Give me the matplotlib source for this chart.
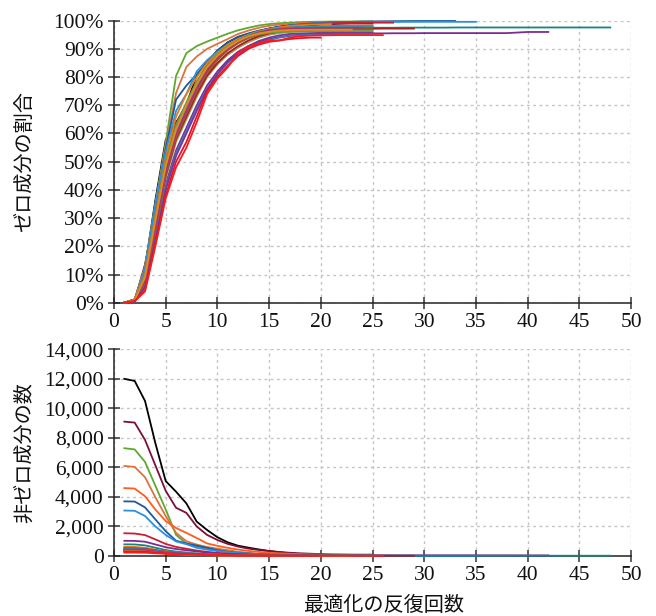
import matplotlib
matplotlib.use("Agg")
import matplotlib.pyplot as plt
from matplotlib import font_manager

# ---- data: zero-component ratio (%) per iteration, and initial non-zero count ----
series_colors = [
    "#000000", "#7b0f3b", "#5fa830", "#d9733f", "#ff5b1f", "#1c5a9c", "#2a8fe0",
    "#c81e32", "#7d2b8f", "#138585", "#a89a55", "#f07a12", "#a3201e", "#4b74b5",
    "#2a96a8", "#9c5a2c", "#6b3b9e", "#6f9a3a", "#b03070", "#e8891e",
    "#e3122f", "#ff1a1a",
]

initial_nonzero = [
    12000, 9100, 7300, 6100, 4600, 3700, 3080,
    1540, 1030, 790, 560, 620, 520, 480,
    440, 400, 350, 380, 420, 330,
    300, 230,
]

zero_ratio = [
    [0, 1.2, 12.5, 36.3, 57.7, 63.7, 70.3, 80.6, 85.3, 89.4, 92.3, 94.2, 95.3, 96.3, 97.2, 97.9, 98.5, 98.9, 99.2, 99.3, 99.4, 99.43, 99.46, 99.48, 99.5],
    [0, 0.7, 13.6, 32.5, 51.5, 64.1, 67.9, 78.0, 84.3, 88.1, 91.0, 93.0, 94.5, 95.5, 96.3, 97.0, 97.6, 98.0, 98.3, 98.6, 98.8, 98.9, 99.0, 99.0, 99.0],
    [0, 1.1, 12.7, 34.8, 56.8, 80.4, 88.5, 91.0, 92.6, 94.0, 95.4, 96.6, 97.5, 98.3, 98.8, 99.1, 99.3, 99.5, 99.6, 99.65, 99.7, 99.7, 99.72, 99.74, 99.75],
    [0, 1.1, 12.5, 34.8, 55.6, 74.3, 83.6, 87.3, 90.0, 91.8, 93.5, 95.3, 96.5, 97.5, 98.2, 98.6, 98.9, 99.1, 99.2, 99.3, 99.35, 99.4, 99.4, 99.45, 99.45],
    [0, 0.7, 12.0, 31.5, 48.5, 58.7, 66.0, 73.5, 81.5, 85.0, 88.0, 90.5, 92.5, 94.0, 95.2, 96.0, 96.7, 97.2, 97.6, 97.9, 98.1, 98.2, 98.25, 98.3, 98.3],
    [0, 0.3, 11.0, 33.0, 54.6, 72.0, 77.0, 81.0, 85.0, 89.4, 92.3, 94.3, 95.5, 96.5, 97.2, 97.8, 98.3, 98.7, 99.0, 99.2, 99.4, 99.5, 99.6, 99.7, 99.75, 99.8, 99.83, 99.86, 99.88, 99.9, 99.9, 99.9, 99.9],
    [0, 0.6, 12.0, 35.0, 53.6, 68.0, 74.0, 82.0, 86.0, 89.0, 91.5, 93.5, 95.0, 96.2, 97.0, 97.7, 98.2, 98.6, 98.9, 99.1, 99.25, 99.35, 99.42, 99.48, 99.52, 99.55, 99.57, 99.58, 99.59, 99.6, 99.6, 99.6, 99.6, 99.6, 99.6],
    [0, 1.2, 8.0, 27.0, 47.0, 60.0, 68.0, 76.0, 82.0, 86.5, 90.0, 92.5, 94.3, 95.6, 96.6, 97.4, 98.0, 98.5, 98.8, 99.0, 99.1, 99.2, 99.25, 99.28, 99.3, 99.3, 99.3],
    [0, 0.8, 6.0, 24.0, 42.0, 54.0, 62.0, 70.0, 77.0, 82.0, 86.0, 89.0, 91.0, 92.5, 93.5, 94.2, 94.7, 95.0, 95.2, 95.3, 95.4, 95.5, 95.5, 95.5, 95.5, 95.5, 95.55, 95.55, 95.55, 95.6, 95.6, 95.6, 95.6, 95.6, 95.6, 95.6, 95.6, 95.6, 95.8, 96.0, 96.0, 96.0],
    [0, 1.0, 9.0, 29.0, 49.0, 62.0, 70.0, 78.0, 84.0, 88.0, 91.0, 93.0, 94.5, 95.5, 96.2, 96.7, 97.0, 97.2, 97.3, 97.4, 97.45, 97.5, 97.5, 97.5, 97.5, 97.5, 97.5, 97.55, 97.55, 97.55, 97.55, 97.55, 97.6, 97.6, 97.6, 97.6, 97.6, 97.6, 97.6, 97.6, 97.6, 97.6, 97.6, 97.6, 97.6, 97.6, 97.6, 97.6],
    [0, 0.9, 7.0, 25.0, 44.0, 57.0, 65.0, 73.0, 80.0, 84.5, 88.0, 90.5, 92.5, 94.0, 95.0, 95.6, 96.0, 96.3, 96.4, 96.5, 96.55, 96.6, 96.6, 96.6, 96.6],
    [0, 1.0, 10.0, 31.0, 51.0, 66.0, 74.0, 80.0, 85.0, 88.5, 91.5, 93.5, 95.0, 96.2, 97.0, 97.6, 98.1, 98.4, 98.6, 98.7, 98.8],
    [0, 0.8, 7.5, 26.0, 45.0, 58.0, 66.0, 74.0, 80.5, 85.0, 88.5, 91.0, 93.0, 94.5, 95.5, 96.1, 96.5, 96.8, 96.9, 97.0, 97.05, 97.1, 97.1, 97.15, 97.15, 97.2, 97.2, 97.2, 97.2],
    [0, 0.5, 6.5, 23.0, 41.0, 53.0, 61.0, 69.0, 76.0, 81.0, 85.0, 88.0, 90.5, 92.0, 93.2, 94.0, 94.6, 94.9, 95.1, 95.2, 95.25, 95.3, 95.3, 95.3, 95.3],
    [0, 0.9, 8.5, 28.0, 47.5, 60.0, 69.0, 77.0, 83.0, 87.5, 90.5, 93.0, 94.8, 96.0, 96.8, 97.3, 97.6, 97.8, 97.9, 97.95, 98.0, 98.0, 98.0, 98.0, 98.0],
    [0, 0.7, 7.0, 25.5, 45.5, 58.5, 67.0, 75.0, 81.5, 86.0, 89.5, 92.0, 93.8, 95.0, 95.8, 96.3, 96.6, 96.8, 96.9, 96.95, 97.0, 97.0, 97.0, 97.0, 97.0],
    [0, 0.6, 5.5, 22.0, 40.0, 52.0, 60.0, 68.0, 75.5, 81.0, 85.5, 88.5, 91.0, 92.8, 94.0, 94.8, 95.3, 95.5, 95.6, 95.7, 95.75, 95.8, 95.8, 95.8, 95.8],
    [0, 1.0, 9.5, 30.0, 50.0, 63.0, 71.0, 78.5, 84.0, 88.0, 91.0, 93.0, 94.3, 95.2, 95.7, 96.0, 96.1, 96.2, 96.25, 96.3, 96.3, 96.3, 96.3, 96.3, 96.3],
    [0, 0.8, 8.0, 27.0, 46.5, 59.5, 68.0, 76.0, 82.5, 87.0, 90.0, 92.5, 94.5, 95.8, 96.6, 97.0, 97.2, 97.35, 97.4, 97.45, 97.5, 97.5, 97.5, 97.5],
    [0, 0.9, 9.0, 29.0, 48.5, 61.5, 70.0, 77.5, 83.5, 87.5, 90.5, 92.8, 94.5, 95.5, 96.1, 96.5, 96.7, 96.75, 96.8, 96.8, 96.8, 96.8, 96.8],
    [0, 0.6, 4.5, 21.0, 38.0, 50.0, 57.0, 66.0, 75.0, 80.0, 84.0, 87.5, 90.0, 91.5, 92.5, 93.0, 93.5, 93.8, 94.0, 94.0],
    [0, 0.5, 4.0, 20.0, 37.0, 48.0, 55.0, 64.0, 74.0, 79.5, 83.5, 88.5, 90.9, 92.0, 93.0, 93.0, 94.0, 94.5, 94.7, 94.8, 94.85, 94.9, 94.9, 94.9, 94.9, 94.9],
]

x_ticks = [0, 5, 10, 15, 20, 25, 30, 35, 40, 45, 50]
x_tick_labels = ["0", "5", "10", "15", "20", "25", "30", "35", "40", "45", "50"]
top_y_ticks = [0, 10, 20, 30, 40, 50, 60, 70, 80, 90, 100]
top_y_labels = ["0%", "10%", "20%", "30%", "40%", "50%", "60%", "70%", "80%", "90%", "100%"]
bottom_y_ticks = [0, 2000, 4000, 6000, 8000, 10000, 12000, 14000]
bottom_y_labels = ["0", "2,000", "4,000", "6,000", "8,000", "10,000", "12,000", "14,000"]
top_ylabel = "ゼロ成分の割合"
bottom_ylabel = "非ゼロ成分の数"
xlabel = "最適化の反復回数"

# ---- fonts ----
serif_path = font_manager.findfont(font_manager.FontProperties(family="Liberation Serif"))
TICK_FP = font_manager.FontProperties(fname=serif_path, size=15.5)
JP_FONT = ["Noto Sans CJK JP", "DejaVu Sans"]

fig = plt.figure(figsize=(6.56, 6.16), dpi=100)
ax1 = fig.add_axes([114 / 656, 1 - 302.7 / 616, 517 / 656, 282 / 616])
ax2 = fig.add_axes([114 / 656, 1 - 556 / 616, 517 / 656, 206.7 / 616])

for ratio, n0, col in zip(zero_ratio, initial_nonzero, series_colors):
    xs = list(range(1, len(ratio) + 1))
    nnz = [n0 * (100 - r) / 100 for r in ratio]
    ax1.plot(xs, ratio, color=col, lw=1.3, clip_on=False, zorder=3)
    ax2.plot(xs, nnz, color=col, lw=1.3, clip_on=False, zorder=3)

def style(ax, yticks, ylabels, ymax):
    ax.set_xlim(0, 50)
    ax.set_ylim(0, ymax)
    ax.set_xticks(x_ticks, x_tick_labels, fontproperties=TICK_FP, color="#111111")
    ax.set_yticks(yticks, ylabels, fontproperties=TICK_FP, color="#111111")
    for s in ("top", "right"):
        ax.spines[s].set_visible(False)
    for s in ("left", "bottom"):
        ax.spines[s].set_color("#222222")
        ax.spines[s].set_linewidth(1.1)
    ax.tick_params(direction="inout", length=9, width=1.1, color="#333333", pad=3)
    ax.grid(True, color="#c4c4c4", linestyle=(0, (2, 2.5)), linewidth=1.0, zorder=0)
    ax.set_axisbelow(True)

style(ax1, top_y_ticks, top_y_labels, 100)
style(ax2, bottom_y_ticks, bottom_y_labels, 14000)

ax1.set_ylabel(top_ylabel, family=JP_FONT, fontsize=14.5, color="#111111")
ax1.yaxis.set_label_coords(-0.153, 0.5)
ax2.set_ylabel(bottom_ylabel, family=JP_FONT, fontsize=14.5, color="#111111")
ax2.yaxis.set_label_coords(-0.153, 0.5)
ax2.set_xlabel(xlabel, family=JP_FONT, fontsize=14.5, color="#111111")
ax2.xaxis.set_label_coords(0.522, -0.19)

fig.savefig("out.png", dpi=100)
